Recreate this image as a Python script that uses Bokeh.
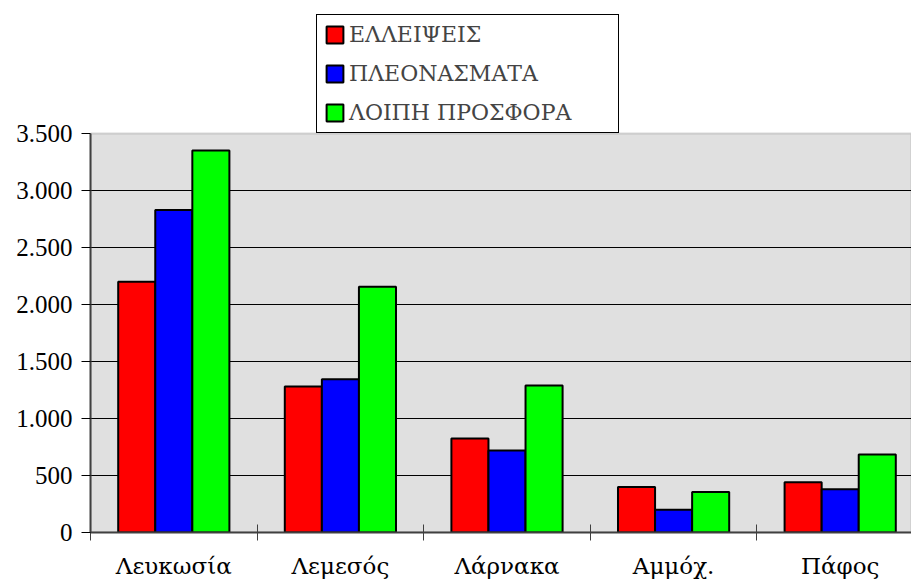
import numpy as np
from bokeh.plotting import figure
from bokeh.models import Range1d, FixedTicker, Legend, LegendItem, BoxAnnotation
from bokeh.embed import file_html
from bokeh.resources import INLINE

categories = ["Λευκωσία", "Λεμεσός", "Λάρνακα", "Αμμόχ.", "Πάφος"]
series_names = ["ΕΛΛΕΙΨΕΙΣ", "ΠΛΕΟΝΑΣΜΑΤΑ", "ΛΟΙΠΗ ΠΡΟΣΦΟΡΑ"]
elleipseis = [2200, 1280, 825, 400, 440]
pleonasmata = [2830, 1345, 720, 200, 380]
loipi_prosfora = [3350, 2155, 1290, 355, 685]
y_ticks = [0, 500, 1000, 1500, 2000, 2500, 3000, 3500]
y_tick_labels = ["0", "500", "1.000", "1.500", "2.000", "2.500", "3.000", "3.500"]
colors = ["#FF0000", "#0000FF", "#00FF00"]

FONT = "'Liberation Serif', 'DejaVu Serif', serif"
GREEK_FONT = "'DejaVu Serif', 'Liberation Serif', serif"

# layout (pixels): frame from y=7 to y=532, value axis top (3500) at y=133
FRAME_TOP, PLOT_TOP, FRAME_BOTTOM = 7, 133, 532
y_max = y_ticks[-1]
y_end = y_max * (FRAME_BOTTOM - FRAME_TOP) / (FRAME_BOTTOM - PLOT_TOP)
x_end = 4.928

p = figure(width=911, height=584, output_backend="svg", toolbar_location=None,
           x_range=Range1d(0, x_end), y_range=Range1d(0, y_end),
           min_border_left=90, min_border_right=0, min_border_top=FRAME_TOP,
           min_border_bottom=584 - FRAME_BOTTOM)
p.background_fill_color = "white"
p.border_fill_color = "white"
p.outline_line_color = None

plot_area = BoxAnnotation(left=0, right=x_end, bottom=0, top=y_max,
                          fill_color="#E0E0E0", fill_alpha=1.0,
                          line_color="#808080", line_width=2, level="image")
p.add_layout(plot_area)

idx = np.arange(len(categories))
centers = idx + 0.5
bar_w = 0.2225
offsets = [-bar_w, 0.0, bar_w]
renderers = []
for vals, off, col in zip([elleipseis, pleonasmata, loipi_prosfora], offsets, colors):
    r = p.vbar(x=centers + off, top=vals, bottom=0, width=bar_w,
               fill_color=col, line_color="black", line_width=2)
    renderers.append(r)

# axes
xa = p.xaxis[0]
xa.ticker = FixedTicker(ticks=list(centers), minor_ticks=list(np.arange(len(categories) + 1)))
xa.major_label_overrides = {float(c): name for c, name in zip(centers, categories)}
xa.major_tick_in = 0
xa.major_tick_out = 0
xa.minor_tick_in = 8
xa.minor_tick_out = 8
xa.minor_tick_line_color = "#404040"
xa.minor_tick_line_width = 1
xa.axis_line_color = "#404040"
xa.axis_line_width = 2
xa.major_label_standoff = 12
xa.major_label_text_font = GREEK_FONT
xa.major_label_text_font_size = "23px"
xa.major_label_text_color = "black"

ya = p.yaxis[0]
ya.ticker = FixedTicker(ticks=y_ticks, minor_ticks=[])
ya.major_label_overrides = {v: t for v, t in zip(y_ticks, y_tick_labels)}
ya.bounds = (0, y_max)
ya.major_tick_in = 0
ya.major_tick_out = 9
ya.major_tick_line_color = "black"
ya.minor_tick_in = 0
ya.minor_tick_out = 0
ya.axis_line_color = "#404040"
ya.axis_line_width = 2
ya.major_label_standoff = 9
ya.major_label_text_font = FONT
ya.major_label_text_font_size = "25px"
ya.major_label_text_color = "black"

p.xgrid.visible = False
p.ygrid.ticker = FixedTicker(ticks=y_ticks[1:-1])
p.ygrid.grid_line_color = "black"
p.ygrid.grid_line_width = 1

legend = Legend(items=[LegendItem(label=n, renderers=[r]) for n, r in zip(series_names, renderers)],
                location=(226, FRAME_BOTTOM - PLOT_TOP), padding=7, margin=0, spacing=14,
                glyph_width=21, glyph_height=21, label_height=21, label_width=262,
                label_standoff=4,
                label_text_font=GREEK_FONT, label_text_font_size="22px",
                border_line_color="black", border_line_width=1, border_line_alpha=1.0,
                background_fill_color="white", background_fill_alpha=1.0)
p.add_layout(legend, "center")

open("out.html", "w").write(file_html(p, INLINE))
